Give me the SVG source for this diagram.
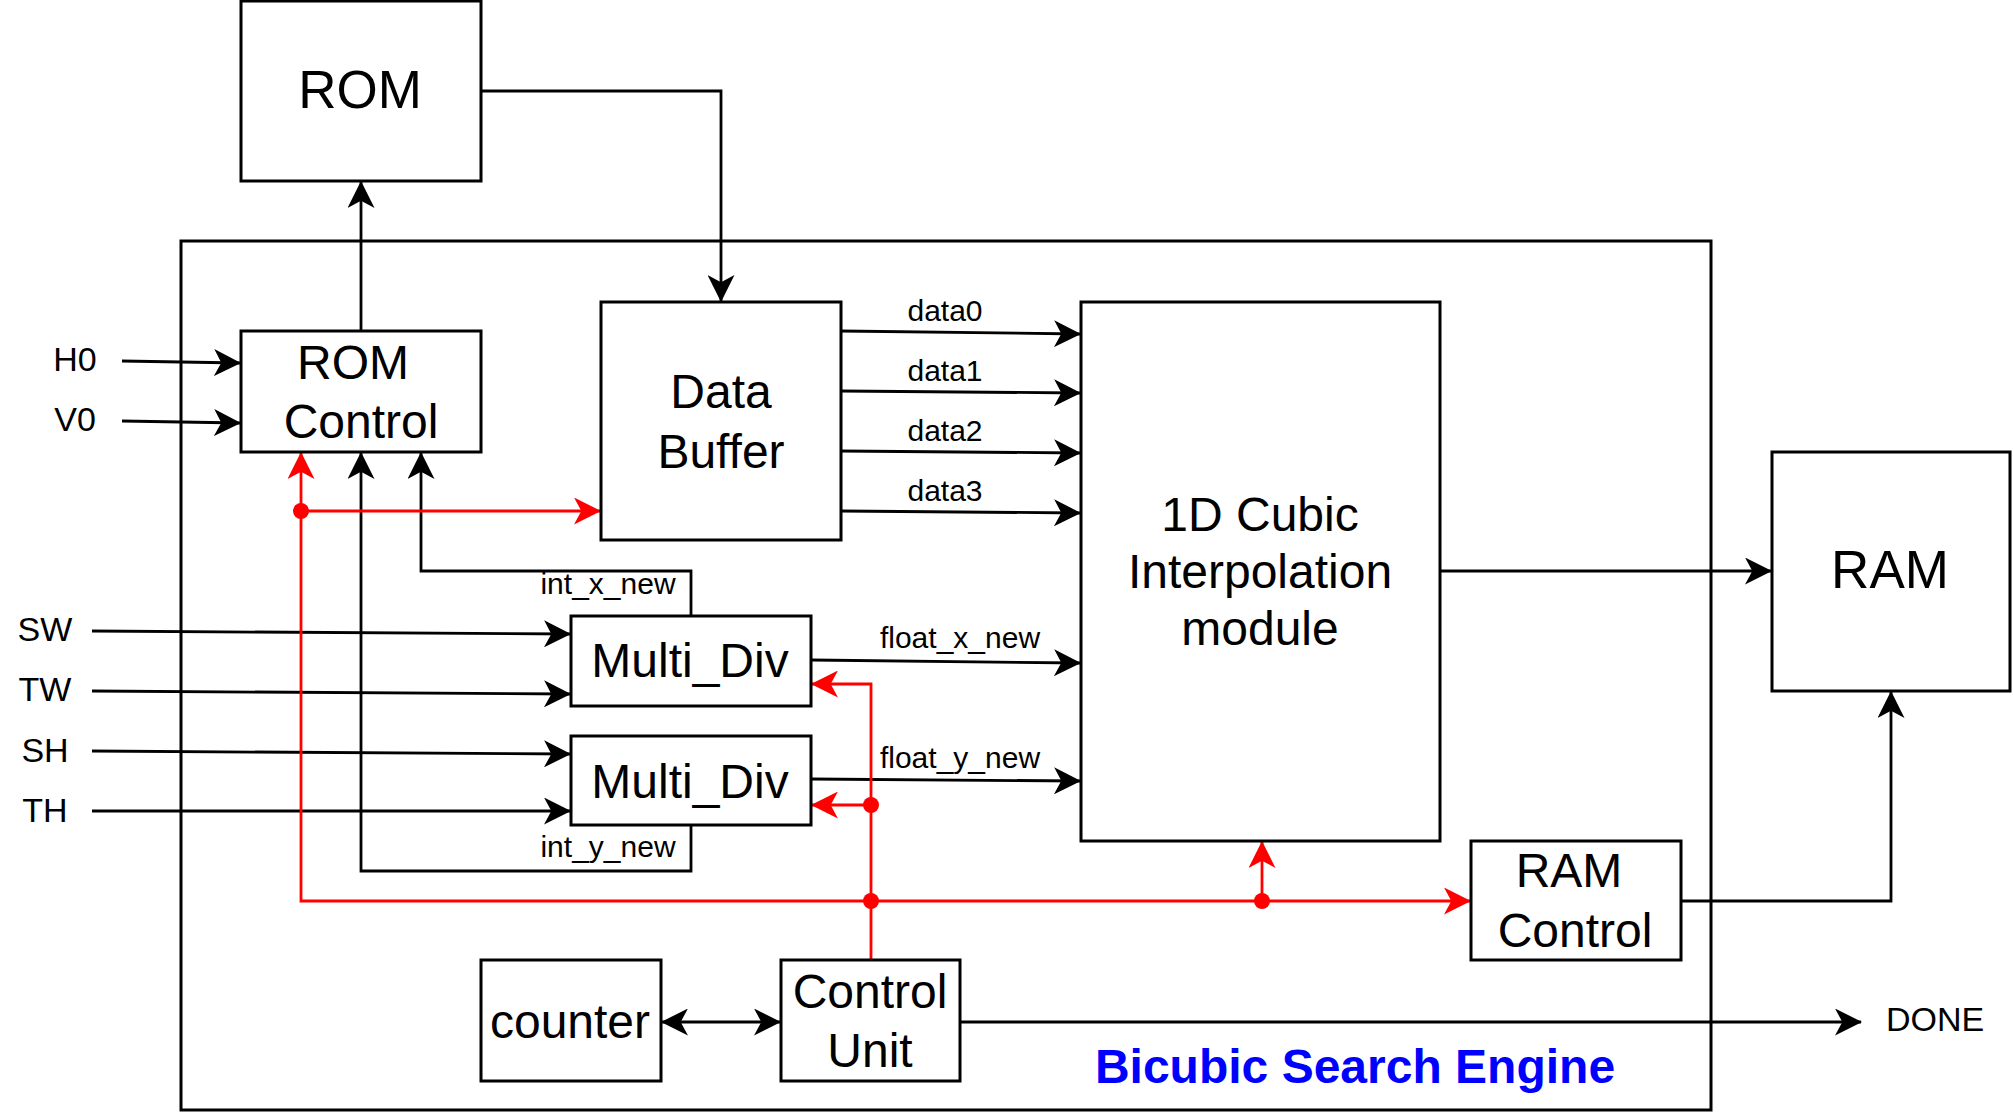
<svg xmlns="http://www.w3.org/2000/svg" width="2013" height="1113" viewBox="0 0 2013 1113">
<style>
.box{fill:#fff;stroke:#000;stroke-width:3}
.frame{fill:none;stroke:#000;stroke-width:3}
.c{fill:none;stroke:#000;stroke-width:2.8}
.r{fill:none;stroke:#f00;stroke-width:2.8}
.big{font-family:"Liberation Sans",Arial,sans-serif;font-size:48px;fill:#000;text-anchor:middle}
.huge{font-family:"Liberation Sans",Arial,sans-serif;font-size:53px;fill:#000;text-anchor:middle}
.sm{font-family:"Liberation Sans",Arial,sans-serif;font-size:30px;fill:#000;text-anchor:middle}
.io{font-family:"Liberation Sans",Arial,sans-serif;font-size:34px;fill:#000;text-anchor:middle}
.title{font-family:"Liberation Sans",Arial,sans-serif;font-size:48px;font-weight:bold;fill:#00f;text-anchor:middle}
</style>
<defs>
<marker id="ab" viewBox="0 0 26 26" refX="25" refY="13" markerWidth="27" markerHeight="27" markerUnits="userSpaceOnUse" orient="auto-start-reverse"><path d="M0,0 L26,13 L0,26 L7,13 Z" fill="#000"/></marker>
<marker id="ar" viewBox="0 0 26 26" refX="25" refY="13" markerWidth="27" markerHeight="27" markerUnits="userSpaceOnUse" orient="auto-start-reverse"><path d="M0,0 L26,13 L0,26 L7,13 Z" fill="#f00"/></marker>
</defs>
<g id="engine">
<rect class="frame" x="181" y="241" width="1530" height="869"/>
<text class="title" x="1355" y="1083">Bicubic Search Engine</text>
</g>
<g id="connectors">
<path class="c" d="M361,331 V182" marker-end="url(#ab)"/>
<path class="c" d="M481,91 H721 V301" marker-end="url(#ab)"/>
<path class="c" d="M122,361 L240,363" marker-end="url(#ab)"/>
<path class="c" d="M122,421 L240,423" marker-end="url(#ab)"/>
<path class="c" d="M841,331 L1080,334" marker-end="url(#ab)"/>
<path class="c" d="M841,391 L1080,393" marker-end="url(#ab)"/>
<path class="c" d="M841,451 L1080,453" marker-end="url(#ab)"/>
<path class="c" d="M841,511 L1080,513" marker-end="url(#ab)"/>
<path class="c" d="M811,660 L1080,663" marker-end="url(#ab)"/>
<path class="c" d="M811,779 L1080,781" marker-end="url(#ab)"/>
<path class="c" d="M1440,571 H1771" marker-end="url(#ab)"/>
<path class="c" d="M1681,901 H1891 V692" marker-end="url(#ab)"/>
<path class="c" d="M92,631 L570,634" marker-end="url(#ab)"/>
<path class="c" d="M92,691 L570,694" marker-end="url(#ab)"/>
<path class="c" d="M92,751 L570,754" marker-end="url(#ab)"/>
<path class="c" d="M92,811 L570,811" marker-end="url(#ab)"/>
<path class="c" d="M691,616 V571 H421 V453" marker-end="url(#ab)"/>
<path class="c" d="M691,825 V871 H361 V453" marker-end="url(#ab)"/>
<path class="c" d="M662,1022 H780" marker-start="url(#ab)" marker-end="url(#ab)"/>
<path class="c" d="M960,1022 H1861" marker-end="url(#ab)"/>
<path class="r" d="M301,511 H600" marker-end="url(#ar)"/>
<path class="r" d="M301,511 V453" marker-end="url(#ar)"/>
<path class="r" d="M301,511 V901 H1470" marker-end="url(#ar)"/>
<path class="r" d="M1262,901 V842" marker-end="url(#ar)"/>
<path class="r" d="M871,960 V684 H812" marker-end="url(#ar)"/>
<path class="r" d="M871,805 H812" marker-end="url(#ar)"/>
<circle cx="301" cy="511" r="8" fill="#f00"/>
<circle cx="871" cy="805" r="8" fill="#f00"/>
<circle cx="871" cy="901" r="8" fill="#f00"/>
<circle cx="1262" cy="901" r="8" fill="#f00"/>
<text class="sm" x="945" y="321">data0</text>
<text class="sm" x="945" y="381">data1</text>
<text class="sm" x="945" y="441">data2</text>
<text class="sm" x="945" y="501">data3</text>
<text class="sm" x="960" y="648">float_x_new</text>
<text class="sm" x="960" y="768">float_y_new</text>
<text class="sm" x="608" y="594">int_x_new</text>
<text class="sm" x="608" y="857">int_y_new</text>
<text class="io" x="75" y="371">H0</text>
<text class="io" x="75" y="431">V0</text>
<text class="io" x="45" y="641">SW</text>
<text class="io" x="45" y="701">TW</text>
<text class="io" x="45" y="762">SH</text>
<text class="io" x="45" y="822">TH</text>
<text class="io" x="1935" y="1031">DONE</text>
</g>
<g id="rom"><rect class="box" x="241" y="1" width="240" height="180"/><text class="huge" x="360" y="108">ROM</text></g>
<g id="rom-control"><rect class="box" x="241" y="331" width="240" height="121"/><text class="big" x="353" y="379">ROM</text><text class="big" x="361" y="438">Control</text></g>
<g id="data-buffer"><rect class="box" x="601" y="302" width="240" height="238"/><text class="big" x="721" y="408">Data</text><text class="big" x="721" y="468">Buffer</text></g>
<g id="cubic"><rect class="box" x="1081" y="302" width="359" height="539"/><text class="big" x="1260" y="531">1D Cubic</text><text class="big" x="1260" y="588">Interpolation</text><text class="big" x="1260" y="645">module</text></g>
<g id="ram"><rect class="box" x="1772" y="452" width="238" height="239"/><text class="huge" x="1890" y="588">RAM</text></g>
<g id="multi-div-x"><rect class="box" x="571" y="616" width="240" height="90"/><text class="big" x="690" y="677">Multi_Div</text></g>
<g id="multi-div-y"><rect class="box" x="571" y="736" width="240" height="89"/><text class="big" x="690" y="798">Multi_Div</text></g>
<g id="ram-control"><rect class="box" x="1471" y="841" width="210" height="119"/><text class="big" x="1569" y="887">RAM</text><text class="big" x="1575" y="947">Control</text></g>
<g id="counter"><rect class="box" x="481" y="960" width="180" height="121"/><text class="big" x="570" y="1038">counter</text></g>
<g id="control-unit"><rect class="box" x="781" y="960" width="179" height="121"/><text class="big" x="870" y="1008">Control</text><text class="big" x="870" y="1067">Unit</text></g>
</svg>
